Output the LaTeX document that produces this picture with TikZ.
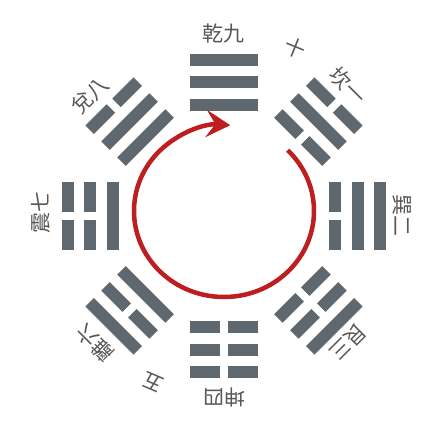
\documentclass[tikz,border=0pt]{standalone}
\usepackage{fontspec}
\newfontfamily\cjk{Noto Sans CJK TC}
\usetikzlibrary{arrows.meta}
\definecolor{barcol}{RGB}{94,104,110}
\definecolor{redcol}{RGB}{190,30,32}
\definecolor{labcol}{RGB}{88,88,88}
\tikzset{
  bar/.style={fill=barcol},
  lab/.style={font=\cjk\fontsize{21}{21}\selectfont, text=labcol, inner sep=0pt},
  ring/.style={draw=redcol, line width=4.5pt,
    -{Stealth[length=24pt,width=27pt,inset=9pt]}}
}
\newcommand\yaoline[2]{%
  \ifnum#2=1
    \fill[bar] ({-34},{#1-6}) rectangle ({34},{#1+6});
  \else
    \fill[bar] ({-34},{#1-6}) rectangle ({-4},{#1+6});
    \fill[bar] ({4},{#1-6}) rectangle ({34},{#1+6});
  \fi}
\newcommand\trigram[4]{%
  \begin{scope}[rotate=#1-90]
    \yaoline{111}{#2}\yaoline{133.5}{#3}\yaoline{156}{#4}
  \end{scope}}
\begin{document}
\begin{tikzpicture}[x=1pt,y=1pt]
  \useasboundingbox (-224,-212) rectangle (220,216);
  \fill[white] (-224,-212) rectangle (220,216);
  % trigrams (inner line first)
  \trigram{90}{1}{1}{1}
  \trigram{45}{0}{1}{0}
  \trigram{0}{0}{1}{1}
  \trigram{-45}{0}{0}{1}
  \trigram{-90}{0}{0}{0}
  \trigram{-135}{1}{0}{1}
  \trigram{180}{1}{0}{0}
  \trigram{135}{1}{1}{0}
  % red ring with arrow
  \coordinate (c) at (0,5);
  \draw[ring] (c) ++({90*cos(45)},{86*sin(45)})
     arc[start angle=45, end angle=-274, x radius=90, y radius=86];
  % labels
  \node[lab, rotate=0]    (qian) at (90:182)   {乾九};
  \node[lab, rotate=-22]  (shi)  at (67:183)   {十};
  \node[lab, rotate=-45]  (kan)  at (46.5:180) {坎一};
  \node[lab, rotate=-90]  (xun)  at (0:178)    {巽二};
  \node[lab, rotate=-135] (gen)  at (-45.5:177){艮三};
  \node[lab, rotate=180]  (kun)  at (-90:181)  {坤四};
  \node[lab, rotate=157]  (wu)   at (-113:181) {五};
  \node[lab, rotate=135]  (li)   at (-135.5:181){離六};
  \node[lab, rotate=90]   (zhen) at (179:183)  {震七};
  \node[lab, rotate=45]   (dui)  at (138:180)  {兌八};
\end{tikzpicture}
\end{document}
